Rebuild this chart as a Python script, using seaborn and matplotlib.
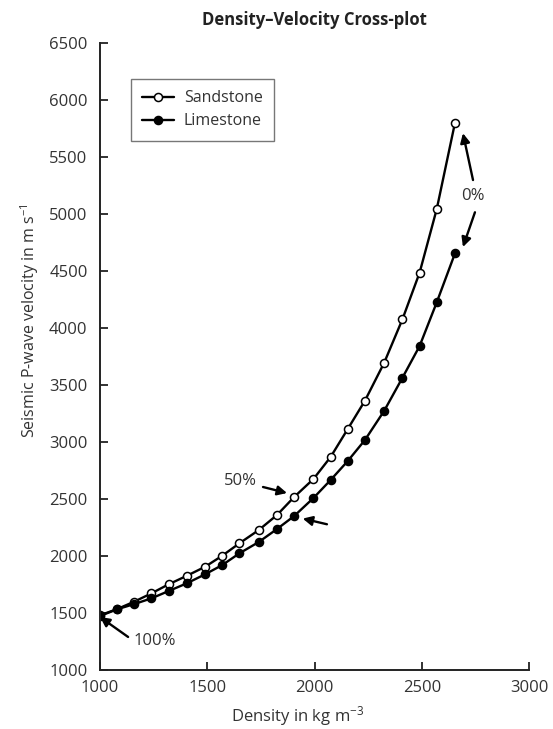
import matplotlib
matplotlib.use("Agg")
import matplotlib.pyplot as plt
import seaborn as sns
import pandas as pd

# ---- data ----
density = [1000, 1080, 1160, 1240, 1320, 1405, 1490, 1570, 1650, 1740, 1825,
           1905, 1995, 2075, 2155, 2235, 2325, 2410, 2490, 2570, 2655]
sandstone_v = [1480, 1535, 1600, 1673, 1752, 1827, 1906, 2003, 2112, 2228, 2360,
               2518, 2676, 2869, 3115, 3363, 3697, 4078, 4487, 5046, 5803]
limestone_v = [1474, 1533, 1579, 1629, 1693, 1761, 1840, 1921, 2024, 2123, 2237,
               2351, 2509, 2667, 2834, 3018, 3275, 3565, 3843, 4227, 4657]
series_names = ["Sandstone", "Limestone"]
x_ticks = [1000, 1500, 2000, 2500, 3000]
y_ticks = [1000, 1500, 2000, 2500, 3000, 3500, 4000, 4500, 5000, 5500, 6000, 6500]
title = "Density\u2013Velocity Cross-plot"
x_label = "Density in kg m$^{-3}$"
y_label = "Seismic P-wave velocity in m s$^{-1}$"

sns.set_style("ticks")
plt.rcParams["font.family"] = ["Open Sans", "DejaVu Sans"]
plt.rcParams["mathtext.fontset"] = "custom"
plt.rcParams["mathtext.rm"] = "Open Sans"
plt.rcParams["mathtext.it"] = "Open Sans"
plt.rcParams["mathtext.bf"] = "Open Sans:bold"

df = pd.DataFrame({"density": density, "Sandstone": sandstone_v, "Limestone": limestone_v})

fig = plt.figure(figsize=(5.53, 7.29), dpi=100)
ax = fig.add_axes([100/553, 1-670/729, 429/553, (670-43.3)/729])

text_col = "#333333"
fs = 12
sns.lineplot(data=df, x="density", y="Sandstone", ax=ax, color="black", lw=1.7,
             marker="o", markersize=5.8, markerfacecolor="white",
             markeredgecolor="black", markeredgewidth=1.1, estimator=None, label=series_names[0])
sns.lineplot(data=df, x="density", y="Limestone", ax=ax, color="black", lw=1.7,
             marker="o", markersize=5.8, markerfacecolor="black",
             markeredgecolor="black", markeredgewidth=1.1, estimator=None, label=series_names[1])

ax.set_xlim(1000, 3000)
ax.set_ylim(1000, 6500)
ax.set_xticks(x_ticks)
ax.set_yticks(y_ticks)
ax.tick_params(direction="in", length=6, width=1.3, labelsize=fs,
               colors="#222222", labelcolor=text_col)
ax.tick_params(axis="y", pad=9)
ax.tick_params(axis="x", pad=7)
sns.despine(ax=ax)
for s in ["left", "bottom"]:
    ax.spines[s].set_linewidth(1.4)
    ax.spines[s].set_color("#222222")

ax.set_title(title, fontsize=fs, fontweight="bold", color="#222222", pad=13)
ax.set_xlabel(x_label, fontsize=fs, color=text_col, va="center")
ax.set_ylabel(y_label, fontsize=11.5, color=text_col, va="center")
ax.xaxis.set_label_coords(0.46, -0.073)
ax.yaxis.set_label_coords(-0.163, 0.557)

leg = ax.legend(handles=ax.lines[:2], labels=series_names, loc="upper left",
                bbox_to_anchor=((131-100)/429, (670-79)/626.7), frameon=True,
                fancybox=False, edgecolor="#555555", fontsize=11.5,
                handlelength=2.0, handletextpad=0.6, borderpad=0.7,
                labelspacing=0.45, borderaxespad=0)
leg.get_frame().set_linewidth(1.0)
for t in leg.get_texts():
    t.set_color(text_col)

arrow = dict(arrowstyle="-|>", lw=1.7, color="black", mutation_scale=14,
             shrinkA=0, shrinkB=0)
ax.annotate("", xy=(2692, 5711), xytext=(2739, 5300), arrowprops=arrow)
ax.annotate("", xy=(2692, 4712), xytext=(2748, 5017), arrowprops=arrow)
ax.text(2739, 5158, "0%", fontsize=fs, color=text_col, ha="center", va="center")

ax.annotate("", xy=(1872, 2553), xytext=(1760, 2606), arrowprops=arrow)
ax.text(1657, 2659, "50%", fontsize=fs, color=text_col, ha="center", va="center")
ax.annotate("", xy=(1945, 2329), xytext=(2058, 2279), arrowprops=arrow)

ax.annotate("", xy=(1000, 1465), xytext=(1131, 1290), arrowprops=arrow)
ax.text(1256, 1254, "100%", fontsize=fs, color=text_col, ha="center", va="center")

fig.savefig("out.png", dpi=100)
